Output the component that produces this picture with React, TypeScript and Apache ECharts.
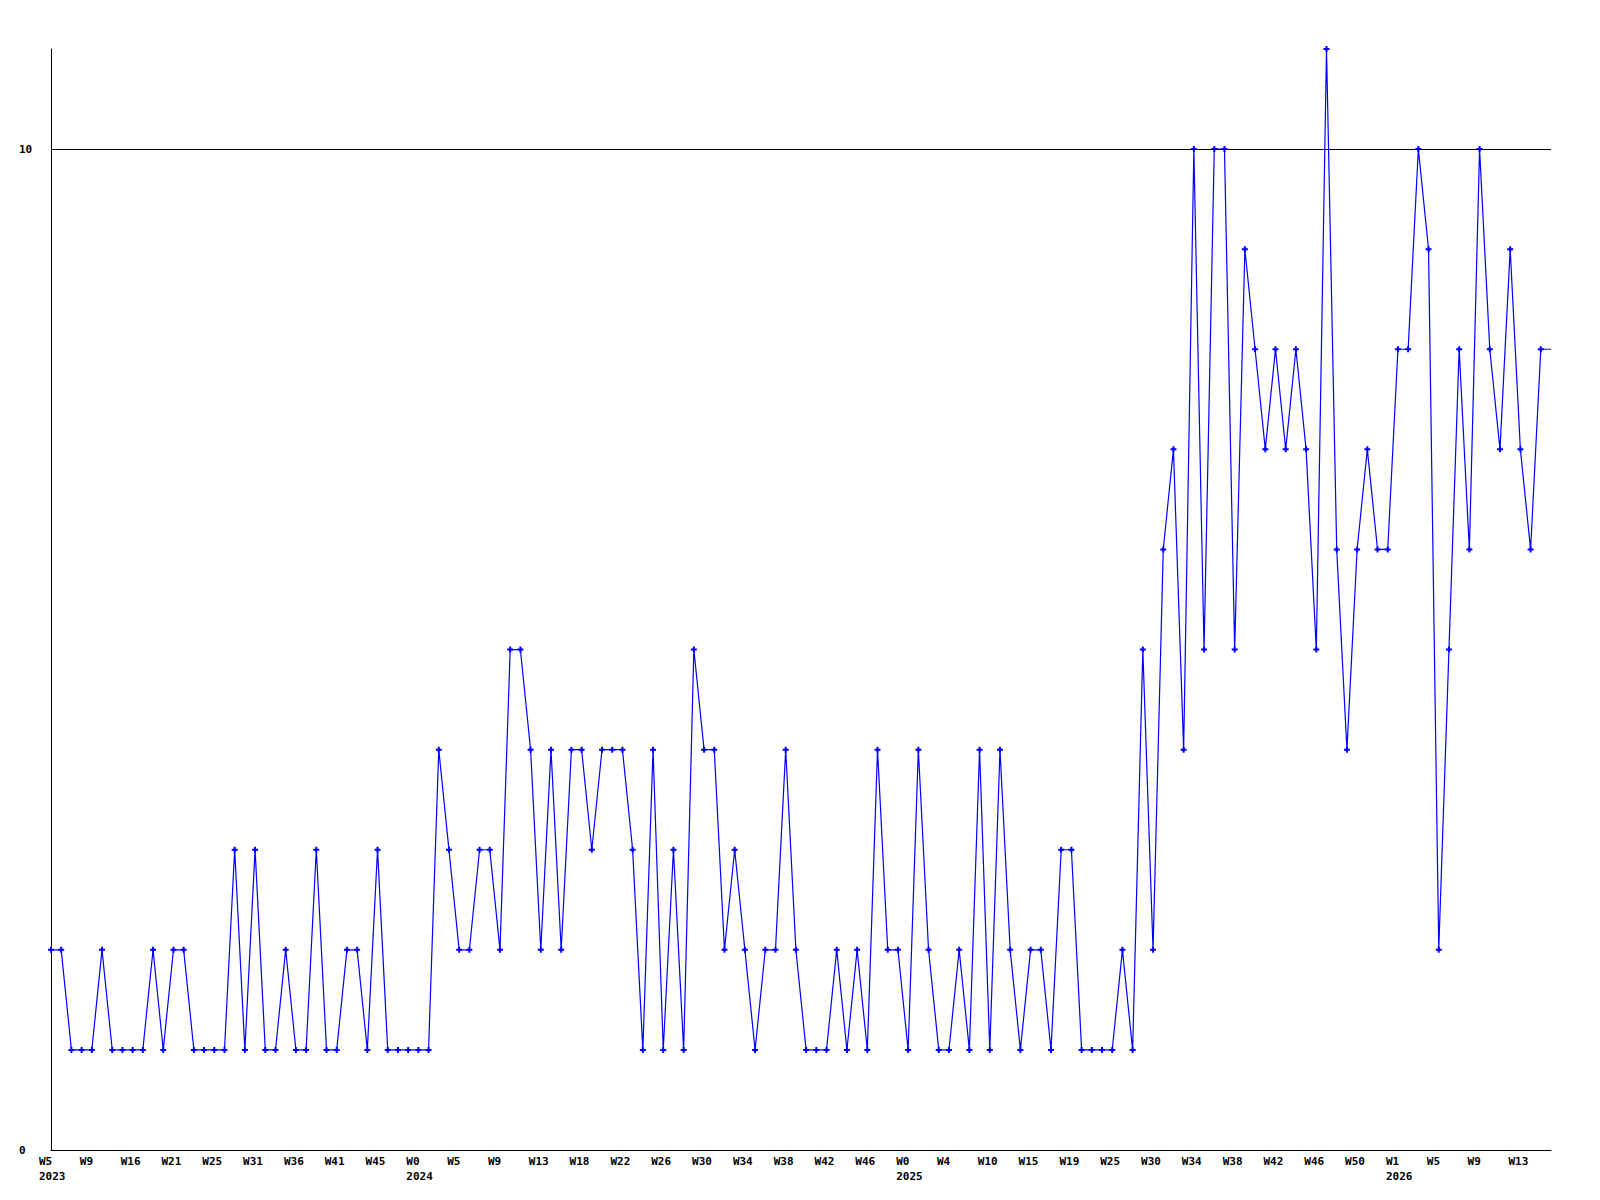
import React, { useEffect, useRef } from "react";
import * as echarts from "echarts";

// Tick labels every 4th point along x
const weekLabels = [
  "W5", "W9", "W16", "W21", "W25", "W31", "W36", "W41", "W45",
  "W0", "W5", "W9", "W13", "W18", "W22", "W26", "W30", "W34", "W38", "W42", "W46",
  "W0", "W4", "W10", "W15", "W19", "W25", "W30", "W34", "W38", "W42", "W46", "W50",
  "W1", "W5", "W9", "W13",
];
// Which week label (by index in weekLabels) carries a year underneath
const yearLabelIndex = [0, 9, 21, 33];
const yearNames = ["2023", "2024", "2025", "2026"];

// Series values (one per point, left to right)
const values = [
  2, 2, 1, 1, 1, 2, 1, 1, 1, 1,
  2, 1, 2, 2, 1, 1, 1, 1, 3, 1,
  3, 1, 1, 2, 1, 1, 3, 1, 1, 2,
  2, 1, 3, 1, 1, 1, 1, 1, 4, 3,
  2, 2, 3, 3, 2, 5, 5, 4, 2, 4,
  2, 4, 4, 3, 4, 4, 4, 3, 1, 4,
  1, 3, 1, 5, 4, 4, 2, 3, 2, 1,
  2, 2, 4, 2, 1, 1, 1, 2, 1, 2,
  1, 4, 2, 2, 1, 4, 2, 1, 1, 2,
  1, 4, 1, 4, 2, 1, 2, 2, 1, 3,
  3, 1, 1, 1, 1, 2, 1, 5, 2, 6,
  7, 4, 10, 5, 10, 10, 5, 9, 8, 7,
  8, 7, 8, 7, 5, 11, 6, 4, 6, 7,
  6, 6, 8, 8, 10, 9, 2, 5, 8, 6,
  10, 8, 7, 9, 7, 6, 8, 8,
];

const yTickLabels = [0, 10];

const FONT = "'DejaVu Sans Mono', 'Liberation Mono', monospace";

export default function App() {
  const ref = useRef<HTMLDivElement>(null);

  useEffect(() => {
    document.body.style.margin = "0";
    if (!ref.current) return;
    const chart = echarts.init(ref.current, null, { renderer: "svg" });

    const categories = values.map((_, i) => {
      if (i % 4 !== 0) return "";
      const li = i / 4;
      const w = weekLabels[li];
      if (w === undefined) return "";
      const yi = yearLabelIndex.indexOf(li);
      return yi >= 0 ? w + "\n" + yearNames[yi] : w;
    });

    const seriesData = values.map((v, i) =>
      i === values.length - 1 ? { value: v, symbol: "none" } : v
    );

    const labelStyle = {
      fontFamily: FONT,
      fontSize: 11,
      fontWeight: "bold" as const,
      color: "#000",
    };

    chart.setOption({
      animation: false,
      backgroundColor: "#fff",
      grid: [
        { left: 51, right: 49, top: 49, bottom: 50 },
        { left: 39, right: 61, top: 49, bottom: 50 },
      ],
      xAxis: [
        {
          type: "category",
          gridIndex: 0,
          data: categories,
          boundaryGap: false,
          axisLine: { show: true, lineStyle: { color: "#000", width: 1 } },
          axisTick: { show: false },
          axisLabel: { show: false },
          splitLine: { show: false },
        },
        {
          type: "category",
          gridIndex: 1,
          data: categories,
          boundaryGap: false,
          axisLine: { show: false },
          axisTick: { show: false },
          axisLabel: {
            ...labelStyle,
            interval: 3,
            align: "left",
            margin: 4,
            lineHeight: 15,
          },
          splitLine: { show: false },
        },
      ],
      yAxis: [
        {
          type: "value",
          gridIndex: 0,
          min: 0,
          max: 11,
          interval: 10,
          axisLine: { show: true, lineStyle: { color: "#000", width: 1 } },
          axisTick: { show: false },
          splitLine: { show: false },
          axisLabel: {
            ...labelStyle,
            align: "left",
            margin: 32,
            formatter: (v: number) => (yTickLabels.includes(v) ? String(v) : ""),
          },
        },
        { type: "value", gridIndex: 1, min: 0, max: 11, show: false },
      ],
      series: [
        {
          type: "line",
          xAxisIndex: 0,
          yAxisIndex: 0,
          data: seriesData,
          symbol: "path://M2,0H4V2H6V4H4V6H2V4H0V2H2Z",
          symbolSize: 6,
          showAllSymbol: true,
          lineStyle: { color: "#0000ff", width: 1.2 },
          itemStyle: { color: "#0000ff" },
          markLine: {
            silent: true,
            symbol: "none",
            label: { show: false },
            lineStyle: { color: "#000", type: "solid", width: 1 },
            data: [{ yAxis: 10 }],
          },
        },
      ],
    });

    return () => chart.dispose();
  }, []);

  return <div ref={ref} style={{ width: 1600, height: 1200 }} />;
}
